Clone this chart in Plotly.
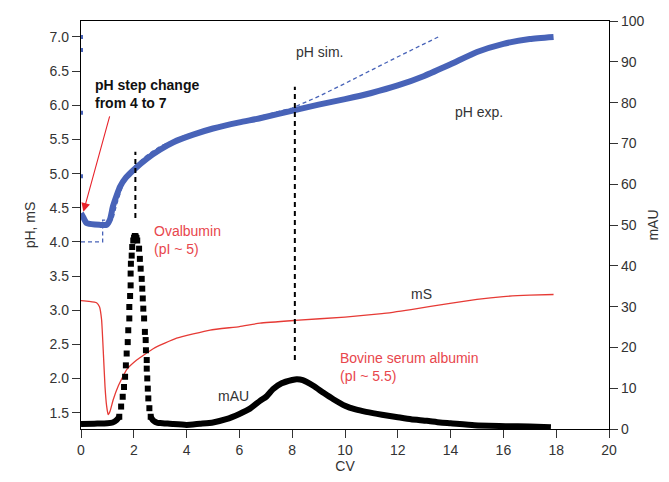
import plotly.graph_objects as go

# ---------------- data ----------------
# pH experimental (thick blue)
ph_exp_cv = [0.0, 0.1, 0.2, 0.4, 0.7, 0.97, 1.1, 1.21, 1.35, 1.48, 1.7, 1.98, 2.5, 2.99, 3.5,
             4.25, 5.0, 6.0, 6.78, 8.1, 9.0, 10.0, 11.0, 12.0, 13.0, 14.0, 15.0, 16.0, 17.0, 17.9]
ph_exp = [4.42, 4.35, 4.28, 4.26, 4.25, 4.25, 4.33, 4.52, 4.68, 4.81, 4.94, 5.05, 5.22, 5.35, 5.46,
          5.57, 5.66, 5.75, 5.81, 5.93, 6.01, 6.09, 6.18, 6.29, 6.43, 6.60, 6.78, 6.90, 6.97, 7.0]
# stray pH points at CV 0
ph_start_cv = [0.0, 0.0, 0.0, 0.0]
ph_start = [7.0, 6.81, 5.89, 4.96]

# pH simulated (thin dashed blue)
ph_sim_cv = [0.0, 0.82, 0.82, 1.2, 1.35, 1.6, 2.0, 2.5, 3.0, 4.0, 5.0, 6.0, 7.0, 8.0, 9.0,
             10.0, 11.0, 12.0, 13.0, 13.53]
ph_sim = [4.0, 4.0, 4.32, 4.32, 4.55, 4.85, 5.1, 5.27, 5.4, 5.57, 5.67, 5.76, 5.86, 5.96, 6.13,
          6.32, 6.52, 6.71, 6.90, 7.0]

# conductivity mS (red)
ms_cv = [0.0, 0.3, 0.59, 0.7, 0.78, 0.85, 0.91, 0.97, 1.03, 1.1, 1.22, 1.4, 1.73, 2.11, 2.75,
         3.62, 4.89, 6.0, 6.78, 8.1, 10.0, 11.4, 12.5, 13.98, 15.0, 16.0, 17.0, 17.9]
ms = [3.14, 3.13, 3.11, 3.05, 2.86, 2.35, 1.88, 1.6, 1.47, 1.52, 1.69, 1.88, 2.13, 2.27, 2.44,
      2.59, 2.71, 2.76, 2.81, 2.85, 2.90, 2.95, 3.01, 3.10, 3.16, 3.20, 3.22, 3.23]

# UV absorbance mAU (black) – continuous part
mau_cv = [0.0, 0.5, 1.0, 1.2, 1.35, 1.45, None, 2.64, 2.75, 2.9, 3.0, 3.5, 4.0, 4.5, 5.0, 5.5,
          6.0, 6.4, 6.78, 7.03, 7.28, 7.6, 8.0, 8.17, 8.4, 8.8, 9.2, 9.56, 10.0, 10.4, 10.8,
          11.4, 12.0, 12.5, 13.1, 13.6, 14.0, 14.9, 16.1, 17.0, 17.8]
mau = [1.2, 1.3, 1.4, 1.6, 2.2, 3.0, None, 3.0, 2.0, 1.5, 1.5, 1.2, 1.0, 1.3, 1.6, 2.4,
       3.7, 5.0, 6.9, 8.0, 9.8, 11.2, 12.0, 12.2, 12.0, 10.6, 8.8, 7.3, 5.7, 4.8, 4.2,
       3.5, 2.9, 2.4, 2.0, 1.6, 1.4, 0.9, 0.7, 0.6, 0.4]
# UV absorbance – individual samples in the ovalbumin peak
peak_cv = [1.45, 1.52, 1.58, 1.63, 1.67, 1.70, 1.73, 1.77, 1.79, 1.83, 1.83, 1.86, 1.88, 1.88,
           1.89, 1.92, 1.94, 1.98, 2.01, 2.04, 2.07, 2.10, 2.13, 2.20, 2.23, 2.26, 2.30, 2.32,
           2.34, 2.36, 2.39, 2.42, 2.45, 2.46, 2.49, 2.49, 2.51, 2.53, 2.55, 2.59, 2.64]
peak_mau = [3.0, 5.5, 7.9, 10.3, 12.8, 15.6, 18.5, 21.3, 24.2, 27.1, 29.9, 32.6, 35.2, 38.1,
            40.5, 42.5, 44.6, 46.2, 46.9, 47.3, 47.2, 46.8, 46.2, 44.2, 41.7, 39.3, 36.8, 34.4,
            32.0, 29.5, 27.1, 23.8, 21.8, 19.3, 16.9, 14.8, 12.4, 9.9, 7.5, 5.1, 3.0]

# peak markers (vertical dashed lines): CV position and pH span
marker_cv = [2.06, 8.1]
marker_lo = [4.35, 2.27]
marker_hi = [5.32, 6.27]

x_ticks = list(range(0, 21, 2))
y_ticks = [1.5, 2.0, 2.5, 3.0, 3.5, 4.0, 4.5, 5.0, 5.5, 6.0, 6.5, 7.0]
y2_ticks = list(range(0, 101, 10))

BLUE = "#4863B8"
RED = "#E63A35"
TXT_RED = "#E8464C"
TXT = "#333333"
FONT = "Liberation Sans, Arial, sans-serif"

fig = go.Figure()

fig.add_trace(go.Scatter(x=ms_cv, y=ms, mode="lines",
                         line=dict(color=RED, width=1.3, shape="spline", smoothing=0.4),
                         yaxis="y"))
fig.add_trace(go.Scatter(x=ph_sim_cv, y=ph_sim, mode="lines",
                         line=dict(color=BLUE, width=1.3, dash="4px,3px"), yaxis="y"))
fig.add_trace(go.Scatter(x=ph_exp_cv, y=ph_exp, mode="lines",
                         line=dict(color=BLUE, width=6, shape="spline", smoothing=0.5),
                         yaxis="y"))
fig.add_trace(go.Scatter(x=ph_start_cv, y=ph_start, mode="markers",
                         marker=dict(color=BLUE, symbol="square", size=4), yaxis="y"))
for cv, lo, hi in zip(marker_cv, marker_lo, marker_hi):
    fig.add_trace(go.Scatter(x=[cv, cv], y=[lo, hi], mode="lines",
                             line=dict(color="black", width=2, dash="5px,4px"), yaxis="y"))

fig.add_trace(go.Scatter(x=mau_cv, y=mau, mode="lines", connectgaps=False,
                         line=dict(color="black", width=6, shape="spline", smoothing=0.5),
                         yaxis="y2"))
fig.add_trace(go.Scatter(x=peak_cv, y=peak_mau, mode="markers",
                         marker=dict(color="black", symbol="square", size=6,
                                     line=dict(width=0)),
                         yaxis="y2"))

axis_font = dict(family=FONT, size=14, color=TXT)

fig.update_layout(
    width=669, height=482,
    margin=dict(l=81, r=60, t=21, b=53),
    paper_bgcolor="white", plot_bgcolor="white",
    showlegend=False,
    font=dict(family=FONT, size=14, color=TXT),
    xaxis=dict(range=[0, 20], tickvals=x_ticks, ticks="outside", ticklen=8,
               tickcolor="#333", showline=True, linecolor="black", linewidth=1.3,
               mirror=True, showgrid=False, zeroline=False, tickfont=axis_font,
               automargin=False,
               title=dict(text="CV", font=axis_font, standoff=4)),
    yaxis=dict(range=[1.261, 7.234], tickvals=y_ticks, tickformat=".1f",
               ticks="outside", ticklen=8, tickcolor="#333", showline=True,
               linecolor="black", linewidth=1.3, showgrid=False, zeroline=False,
               tickfont=axis_font, automargin=False,
               title=dict(text="pH, mS", font=axis_font, standoff=10)),
    yaxis2=dict(range=[0, 100], tickvals=y2_ticks, overlaying="y", side="right",
                ticks="outside", ticklen=8, tickcolor="#333", showline=True,
                linecolor="black", linewidth=1.3, showgrid=False, zeroline=False,
                tickfont=axis_font, automargin=False,
                title=dict(text="mAU", font=axis_font, standoff=4)),
)

ann = [
    dict(x=9.05, y=6.78, text="pH sim.", xanchor="center", yanchor="middle",
         font=dict(color=TXT, size=14)),
    dict(x=15.08, y=5.90, text="pH exp.", xanchor="center", yanchor="middle",
         font=dict(color=TXT, size=14)),
    dict(x=0.45, y=6.16, text="<b>pH step change<br>from 4 to 7</b>", xanchor="left",
         yanchor="middle", align="left", font=dict(color="#111", size=14)),
    dict(x=2.69, y=4.03, text="Ovalbumin<br>(pI ~ 5)", xanchor="left", yanchor="middle",
         align="left", font=dict(color=TXT_RED, size=14)),
    dict(x=12.88, y=3.24, text="mS", xanchor="center", yanchor="middle",
         font=dict(color=TXT, size=14)),
    dict(x=9.73, y=2.17, text="Bovine serum albumin<br>(pI ~ 5.5)", xanchor="left",
         yanchor="middle", align="left", font=dict(color=TXT_RED, size=14)),
    dict(x=5.76, y=1.744, text="mAU", xanchor="center", yanchor="middle",
         font=dict(color=TXT, size=14)),
]
for a in ann:
    fig.add_annotation(xref="x", yref="y", showarrow=False, **a)

fig.add_annotation(x=0.09, y=4.44, ax=1.10, ay=5.86, xref="x", yref="y",
                   axref="x", ayref="y", showarrow=True, arrowhead=2, arrowsize=1.6,
                   arrowwidth=1.1, arrowcolor="#E8232B", text="")

fig.write_html("out.html")
